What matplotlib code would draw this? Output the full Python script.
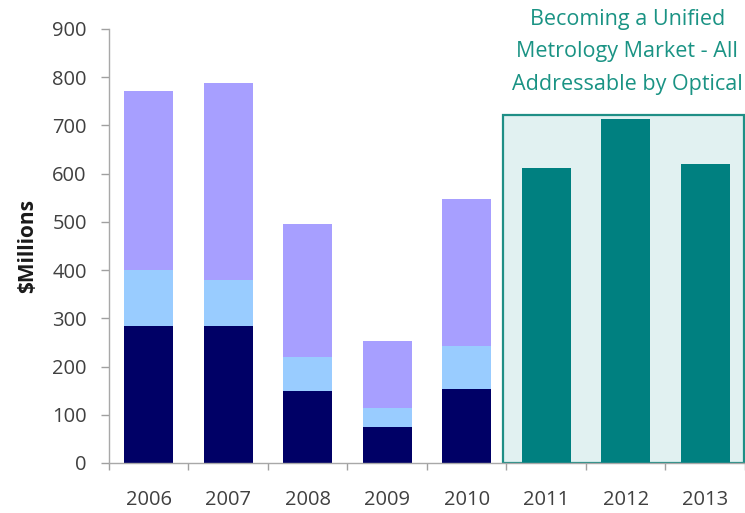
import numpy as np
import matplotlib.pyplot as plt
from matplotlib.patches import Rectangle

# market size by year ($M), stacked segments for 2006-2010
years = ['2006', '2007', '2008', '2009', '2010', '2011', '2012', '2013']
hist_years = ['2006', '2007', '2008', '2009', '2010']
seg_bottom = [285, 285, 150, 75, 153]      # navy
seg_middle = [115, 95, 70, 40, 89]         # light blue
seg_top = [372, 407, 275, 138, 306]        # lavender
fcst_years = ['2011', '2012', '2013']
fcst_total = [611, 713, 621]               # teal

navy = '#000066'
light_blue = '#99ccff'
lavender = '#a79fff'
teal = '#008080'

plt.rcParams['font.family'] = ['Open Sans', 'DejaVu Sans']

fig = plt.figure(figsize=(7.45, 5.13), dpi=100)
ax = fig.add_axes([0.1463, 0.0975, 0.8537, 0.846])

x_hist = np.arange(len(hist_years))
x_fcst = np.arange(len(hist_years), len(years))
w = 0.62

# shaded box behind the forecast years
box = Rectangle((4.46, 0), 3.03, 722, facecolor='#e1f1f1', edgecolor='#1f8f86',
                linewidth=1.6, zorder=0)
ax.add_patch(box)

ax.bar(x_hist, seg_bottom, w, color=navy, zorder=2)
ax.bar(x_hist, seg_middle, w, bottom=seg_bottom, color=light_blue, zorder=2)
ax.bar(x_hist, seg_top, w, bottom=np.add(seg_bottom, seg_middle), color=lavender, zorder=2)
ax.bar(x_fcst, fcst_total, w, color=teal, zorder=2)

ax.set_xlim(-0.5, 7.5)
ax.set_ylim(0, 900)
ax.set_yticks(np.arange(0, 901, 100))
ax.set_xticks(np.arange(len(years)))
ax.set_xticklabels(years)
ax.set_xticks(np.arange(-0.5, 7.6, 1), minor=True)
ax.tick_params(axis='x', which='major', length=0, pad=19.5, labelsize=14.5, labelcolor='#404040')
ax.tick_params(axis='x', which='minor', length=5, color='#a0a0a0', width=1)
ax.tick_params(axis='y', length=6, color='#a0a0a0', width=1, pad=10,
               labelsize=14.5, labelcolor='#404040')

for side in ['top', 'right']:
    ax.spines[side].set_visible(False)
for side in ['left', 'bottom']:
    ax.spines[side].set_color('#a8a8a8')
    ax.spines[side].set_linewidth(1)

ax.set_ylabel('$Millions', fontsize=15, fontweight='bold', color='#1a1a1a', labelpad=10)

fig.text(0.842, 0.982, 'Becoming a Unified\nMetrology Market - All\nAddressable by Optical',
         ha='center', va='top', fontsize=15.5, color='#1a9384', linespacing=1.7)

fig.savefig('out.png', dpi=100)
